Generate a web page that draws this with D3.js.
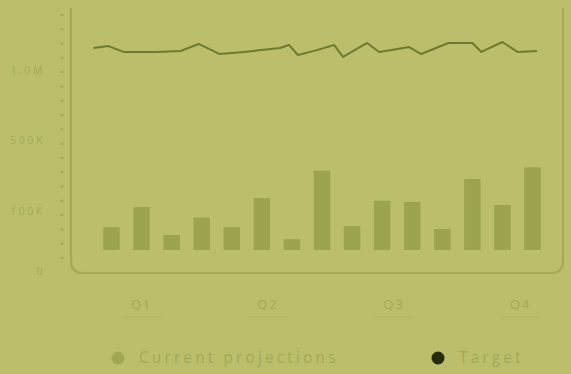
<!DOCTYPE html>
<html>
<head>
<meta charset="utf-8">
<script src="https://cdn.jsdelivr.net/npm/d3@7"></script>
<style>
  html, body { margin: 0; padding: 0; background: #bbbf6b; }
  svg { display: block; }
  text { font-family: "Open Sans", Lato, sans-serif; }
</style>
</head>
<body>
<svg id="chart" width="571" height="374"></svg>
<script>
// Periods (bars) and their current projections
const periods = d3.range(1, 16);
const projections = [73e3, 122e3, 60e3, 89e3, 73e3, 173e3, 53e3, 327e3, 75e3, 158e3, 151e3, 70e3, 280e3, 134e3, 346e3];
// Lowest value shown on the bar stems
const barFloor = 35e3;

// Target line: period position and value
const targetPeriod = [0.4, 0.9, 1.4, 2.5, 3.3, 3.9, 4.6, 5.4, 6.6, 6.9, 7.2, 7.8, 8.4, 8.7, 9.5, 9.9, 10.9, 11.3, 12.2, 13.0, 13.3, 14.0, 14.5, 15.15];
const targetValue  = [1.157e6, 1.171e6, 1.129e6, 1.129e6, 1.136e6, 1.186e6, 1.114e6, 1.129e6, 1.157e6, 1.179e6, 1.107e6, 1.14e6, 1.179e6, 1.093e6, 1.193e6, 1.129e6, 1.164e6, 1.114e6, 1.193e6, 1.193e6, 1.129e6, 1.2e6, 1.129e6, 1.136e6];

// Axis labels
const yTickValues = [0, 100e3, 500e3, 1e6];
const yTickLabels = ["0", "100K", "500K", "1.0M"];
const quarters = ["Q1", "Q2", "Q3", "Q4"];
const legendLabels = ["Current projections", "Target"];

const colors = {
  frame: "#a3a956",
  bar: "#9ca44f",
  line: "#6e7a2f",
  label: "#a2a857",
  dotProj: "#a1a853",
  dotTarget: "#262c0c"
};

const svg = d3.select("#chart");

// Polylinear value scale with expanded low range
const y = d3.scaleLinear()
  .domain([0, 100e3, 500e3, 1e6, 1.5e6])
  .range([271, 211, 140, 70, 0]);

const x = d3.scaleLinear().domain([1, 15]).range([111.5, 532.5]);
const barW = 16.5;

const q = d3.scalePoint().domain(quarters).range([141, 520]);

// Frame (left, bottom, right with rounded corners)
const fl = 71, fr = 563, fb = 273, ft = 8, rad = 12;
svg.append("path")
  .attr("d", `M${fl},${ft} L${fl},${fb - rad} Q${fl},${fb} ${fl + rad},${fb} L${fr - rad},${fb} Q${fr},${fb} ${fr},${fb - rad} L${fr},${ft}`)
  .attr("fill", "none")
  .attr("stroke", colors.frame)
  .attr("stroke-width", 2.2)
  .style("filter", "blur(0.5px)");

// Minor tick marks along the value axis
const minor = d3.scaleLinear().domain([0, 17]).range([15, 258]);
svg.append("g").selectAll("rect")
  .data(d3.range(18))
  .join("rect")
  .attr("x", 60.5)
  .attr("y", d => minor(d) - 1)
  .attr("width", 3)
  .attr("height", 2)
  .attr("fill", colors.frame);

// Value axis labels
const yAxis = d3.axisLeft(y)
  .tickValues(yTickValues)
  .tickFormat((d, i) => yTickLabels[i])
  .tickSize(0)
  .tickPadding(0);
const gy = svg.append("g").attr("transform", "translate(45,0)").call(yAxis);
gy.select(".domain").remove();
gy.selectAll("text")
  .attr("fill", colors.label)
  .attr("font-size", 10.5)
  .attr("letter-spacing", 2.6)
  .style("font-family", "'Open Sans', sans-serif");

// Bars
svg.append("g").selectAll("rect")
  .data(periods)
  .join("rect")
  .attr("x", (d) => x(d) - barW / 2)
  .attr("y", (d, i) => y(projections[i]))
  .attr("width", barW)
  .attr("height", (d, i) => y(barFloor) - y(projections[i]))
  .attr("fill", colors.bar)
  .style("filter", "blur(0.4px)");

// Target line
const line = d3.line()
  .x(d => x(d[0]))
  .y(d => y(d[1]));
svg.append("path")
  .datum(d3.zip(targetPeriod, targetValue))
  .attr("d", line)
  .attr("fill", "none")
  .attr("stroke", colors.line)
  .attr("stroke-width", 2)
  .attr("stroke-linejoin", "round")
  .style("filter", "blur(0.6px)");

// Quarter axis
const xAxis = d3.axisBottom(q).tickSize(0).tickPadding(0);
const gx = svg.append("g").attr("transform", "translate(0,301)").call(xAxis);
gx.select(".domain").remove();
gx.selectAll("text")
  .attr("fill", colors.label)
  .attr("font-size", 13)
  .attr("letter-spacing", 1.8)
  .attr("dy", "0.6em");
gx.selectAll(".tick").append("line")
  .attr("x1", -20).attr("x2", 20)
  .attr("y1", 16).attr("y2", 16)
  .attr("stroke", "#b4b865")
  .attr("stroke-width", 1.5);

// Legend
const legend = svg.append("g");
const items = [
  { label: legendLabels[0], cx: 118, color: colors.dotProj },
  { label: legendLabels[1], cx: 438, color: colors.dotTarget }
];
const li = legend.selectAll("g").data(items).join("g")
  .attr("transform", d => `translate(${d.cx},358)`);
li.append("circle").attr("r", 6.5).attr("fill", d => d.color).style("filter", "blur(0.7px)");
li.append("text")
  .attr("x", 21)
  .attr("dy", "0.35em")
  .attr("fill", colors.label)
  .attr("font-size", 15.5)
  .attr("letter-spacing", 3.1)
  .text(d => d.label);
</script>
</body>
</html>
